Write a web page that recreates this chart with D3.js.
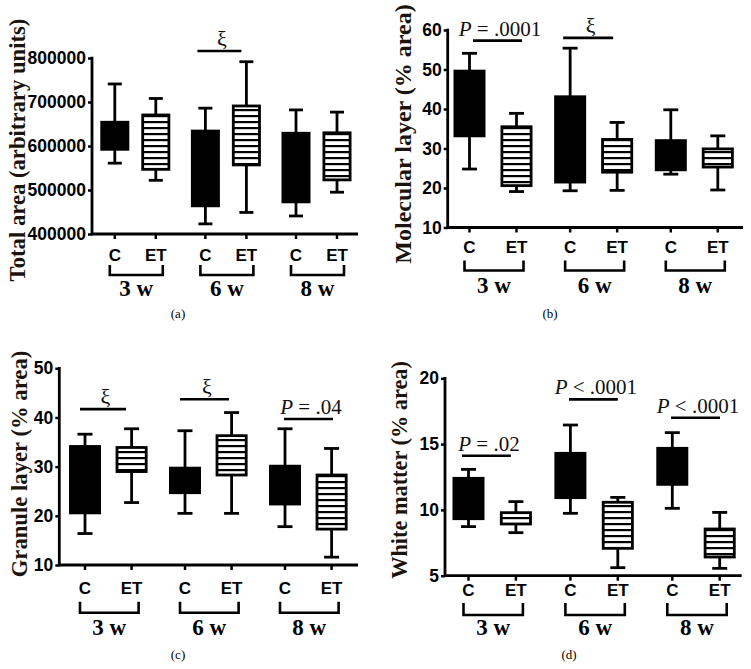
<!DOCTYPE html>
<html><head><meta charset="utf-8">
<script src="https://cdn.jsdelivr.net/npm/d3@7"></script>
<style>body{margin:0;background:#fff}svg{display:block}</style>
</head><body>
<svg id="c" width="751" height="669"></svg>
<script>
// ---------- DATA ----------
const groups = ['3 w', '6 w', '8 w'];
const conditions = ['C', 'ET'];
// box stats (whisker min, Q1, Q3, whisker max), order: C3, ET3, C6, ET6, C8, ET8
const totalArea = [
  {g:'3 w', c:'C',  min:561000, q1:592500, q3:654000, max:741000},
  {g:'3 w', c:'ET', min:522000, q1:547000, q3:670500, max:708000},
  {g:'6 w', c:'C',  min:423000, q1:464000, q3:634000, max:686000},
  {g:'6 w', c:'ET', min:449000, q1:557000, q3:691000, max:791500},
  {g:'8 w', c:'C',  min:441000, q1:473000, q3:629000, max:682000},
  {g:'8 w', c:'ET', min:495000, q1:523000, q3:630000, max:677000}
];
const molecularLayer = [
  {g:'3 w', c:'C',  min:24.8, q1:33.2, q3:49.6, max:54.1},
  {g:'3 w', c:'ET', min:19.1, q1:20.6, q3:35.5, max:38.9},
  {g:'6 w', c:'C',  min:19.3, q1:21.5, q3:43.1, max:55.4},
  {g:'6 w', c:'ET', min:19.4, q1:24.0, q3:32.3, max:36.6},
  {g:'8 w', c:'C',  min:23.5, q1:24.6, q3:32.0, max:39.8},
  {g:'8 w', c:'ET', min:19.5, q1:25.3, q3:29.9, max:33.2}
];
const granuleLayer = [
  {g:'3 w', c:'C',  min:16.4, q1:20.6, q3:34.1, max:36.6},
  {g:'3 w', c:'ET', min:22.7, q1:29.0, q3:33.9, max:37.7},
  {g:'6 w', c:'C',  min:20.5, q1:24.7, q3:29.7, max:37.3},
  {g:'6 w', c:'ET', min:20.5, q1:28.3, q3:36.3, max:41.0},
  {g:'8 w', c:'C',  min:17.8, q1:22.4, q3:30.1, max:37.7},
  {g:'8 w', c:'ET', min:11.6, q1:17.3, q3:28.3, max:33.7}
];
const whiteMatter = [
  {g:'3 w', c:'C',  min:8.73, q1:9.33, q3:12.40, max:13.08},
  {g:'3 w', c:'ET', min:8.27, q1:8.93, q3:9.79,  max:10.63},
  {g:'6 w', c:'C',  min:9.74, q1:10.93, q3:14.30, max:16.45},
  {g:'6 w', c:'ET', min:5.61, q1:7.08, q3:10.58, max:10.95},
  {g:'8 w', c:'C',  min:10.12, q1:11.94, q3:14.68, max:15.87},
  {g:'8 w', c:'ET', min:5.56, q1:6.42, q3:8.55,  max:9.81}
];
// tick labels
const totalAreaTicks = [400000, 500000, 600000, 700000, 800000];
const molecularTicks = [10, 20, 30, 40, 50, 60];
const granuleTicks = [10, 20, 30, 40, 50];
const whiteTicks = [5, 10, 15, 20];
// significance annotations (group, label, bar level in data units)
const totalAreaSig = [{g:'6 w', label:'ξ', y:816000}];
const molecularSig = [{g:'3 w', label:'P = .0001', y:57.3}, {g:'6 w', label:'ξ', y:58.0}];
const granuleSig = [{g:'3 w', label:'ξ', y:41.7}, {g:'6 w', label:'ξ', y:43.7}, {g:'8 w', label:'P = .04', y:39.7}];
const whiteSig = [{g:'3 w', label:'P = .02', y:14.12}, {g:'6 w', label:'P < .0001', y:18.4}, {g:'8 w', label:'P < .0001', y:17.0}];

// ---------- LAYOUT ----------
const panels = [
  {data:totalArea, ticks:totalAreaTicks, sig:totalAreaSig, sigDx:[[-8,-5]], title:'Total area (arbitrary units)', cap:'(a)',
   ax:92, xEnd:358, yTop:58, yBot:234, g0:135.3, g1:316.5, off:20.5, boxW:29, capW:14,
   titleX:25, titleY:150, titleSize:22.7, labelDy:21, brTop:31, brBot:41, gDy:62, capX:178, capY:318},
  {data:molecularLayer, ticks:molecularTicks, sig:molecularSig, sigDx:[[3.5,5.5],[-7,-4]], title:'Molecular layer (% area)', cap:'(b)',
   ax:447.7, xEnd:743, yTop:30, yBot:227.5, g0:493, g1:694.3, off:23.5, boxW:32, capW:15,
   titleX:411, titleY:134, titleSize:24, labelDy:19.5, brTop:33, brBot:43, gDy:65.6, capX:550, capY:318},
  {data:granuleLayer, ticks:granuleTicks, sig:granuleSig, sigDx:[[-5,-5.6],[-5,-2.6],[-1,1.4]], title:'Granule layer (% area)', cap:'(c)',
   ax:59.3, xEnd:358, yTop:368.3, yBot:565, g0:108.3, g1:308.3, off:23.3, boxW:32, capW:15,
   titleX:27, titleY:464, titleSize:22.7, labelDy:23.3, brTop:36.7, brBot:47.7, gDy:70, capX:178, capY:659},
  {data:whiteMatter, ticks:whiteTicks, sig:whiteSig, sigDx:[[-6.5,-5],[-1.4,0],[-1.3,0.3]], title:'White matter (% area)', cap:'(d)',
   ax:445, xEnd:741.7, yTop:378.3, yBot:575.7, g0:492.2, g1:696, off:23.7, boxW:32, capW:15,
   titleX:406.5, titleY:470, titleSize:22.3, labelDy:14.3, brTop:27.3, brBot:39.3, gDy:59.3, capX:569, capY:659}
];

const svg = d3.select('#c');
const defs = svg.append('defs');
const pat = defs.append('pattern').attr('id','stripes').attr('patternUnits','userSpaceOnUse')
  .attr('width', 10).attr('height', 6);
pat.append('rect').attr('width',10).attr('height',6).attr('fill','#fff');
pat.append('rect').attr('y',1).attr('width',10).attr('height',2.2).attr('fill','#000');

const SANS = '"Liberation Sans", Arial, sans-serif';
const SERIF = '"Liberation Serif", "Times New Roman", serif';

panels.forEach(p => {
  const gEl = svg.append('g');
  const y = d3.scaleLinear().domain(d3.extent(p.ticks)).range([p.yBot, p.yTop]);
  const gx = d3.scalePoint().domain(groups).range([p.g0, p.g1]);
  const cx = d3.scaleOrdinal().domain(conditions).range([-p.off, p.off]);
  const X = d => gx(d.g) + cx(d.c);

  // y axis
  const yAxis = d3.axisLeft(y).tickValues(p.ticks).tickSize(4).tickPadding(2).tickFormat(d3.format('d'));
  const ya = gEl.append('g').attr('transform', `translate(${p.ax},0)`).call(yAxis);
  ya.select('.domain').remove();
  ya.selectAll('.tick line').attr('stroke','#000').attr('stroke-width',2.5);
  ya.selectAll('.tick text').attr('font-family',SANS).attr('font-weight','bold').attr('font-size',17.5).attr('fill','#000');
  gEl.append('line').attr('x1',p.ax).attr('x2',p.ax).attr('y1',p.yTop-1.3).attr('y2',p.yBot+1.3)
    .attr('stroke','#000').attr('stroke-width',2.8);
  // x axis
  gEl.append('line').attr('x1',p.ax).attr('x2',p.xEnd).attr('y1',p.yBot).attr('y2',p.yBot)
    .attr('stroke','#000').attr('stroke-width',2.8);

  // x ticks + labels
  p.data.forEach(d => {
    gEl.append('line').attr('x1',X(d)).attr('x2',X(d)).attr('y1',p.yBot).attr('y2',p.yBot+5)
      .attr('stroke','#000').attr('stroke-width',2.5);
    gEl.append('text').attr('x',X(d)).attr('y',p.yBot+p.labelDy).attr('text-anchor','middle')
      .attr('dominant-baseline','central').attr('font-family',SANS).attr('font-weight','bold')
      .attr('font-size',17).text(d.c);
  });
  // group brackets
  groups.forEach(g => {
    const xl = gx(g) - p.off - 5, xr = gx(g) + p.off + 7;
    gEl.append('path').attr('d',`M${xl},${p.yBot+p.brTop}V${p.yBot+p.brBot}H${xr}V${p.yBot+p.brTop}`)
      .attr('fill','none').attr('stroke','#000').attr('stroke-width',2.6);
    gEl.append('text').attr('x',gx(g)+1).attr('y',p.yBot+p.gDy).attr('text-anchor','middle')
      .attr('font-family',SERIF).attr('font-weight','bold').attr('font-size',23).text(g);
  });

  // boxes
  p.data.forEach(d => {
    const x = X(d), hw = p.boxW/2, cw = p.capW/2;
    const w = gEl.append('g').attr('stroke','#000').attr('stroke-width',2.8);
    w.append('line').attr('x1',x).attr('x2',x).attr('y1',y(d.max)).attr('y2',y(d.min));
    w.append('line').attr('x1',x-cw).attr('x2',x+cw).attr('y1',y(d.max)).attr('y2',y(d.max));
    w.append('line').attr('x1',x-cw).attr('x2',x+cw).attr('y1',y(d.min)).attr('y2',y(d.min));
    w.append('rect').attr('x',x-hw+1.4).attr('width',p.boxW-2.8)
      .attr('y',y(d.q3)).attr('height',y(d.q1)-y(d.q3))
      .attr('fill', d.c === 'C' ? '#000' : 'url(#stripes)');
  });

  // significance
  p.sig.forEach((s, i) => {
    const dx = p.sigDx[i];
    const xl = gx(s.g) - p.off + dx[0], xr = gx(s.g) + p.off + dx[1];
    gEl.append('line').attr('x1',xl).attr('x2',xr).attr('y1',y(s.y)).attr('y2',y(s.y))
      .attr('stroke','#000').attr('stroke-width',2.6);
    const t = gEl.append('text').attr('x',(xl+xr)/2+2.5).attr('y',y(s.y)-5).attr('text-anchor','middle')
      .attr('font-family',SERIF).attr('font-size',21).attr('fill','#111');
    if (s.label.startsWith('P')) {
      t.append('tspan').attr('font-style','italic').text('P');
      t.append('tspan').text(s.label.slice(1));
    } else t.attr('font-size',22).text(s.label);
  });

  // y title
  gEl.append('text').attr('transform',`translate(${p.titleX},${p.titleY}) rotate(-90)`)
    .attr('text-anchor','middle').attr('font-family',SERIF).attr('font-weight','bold')
    .attr('font-size',p.titleSize).attr('fill','#1a140c').text(p.title);
  // caption
  svg.append('text').attr('x',p.capX).attr('y',p.capY).attr('text-anchor','middle')
    .attr('font-family',SERIF).attr('font-size',13).text(p.cap);
});
</script>
</body></html>
